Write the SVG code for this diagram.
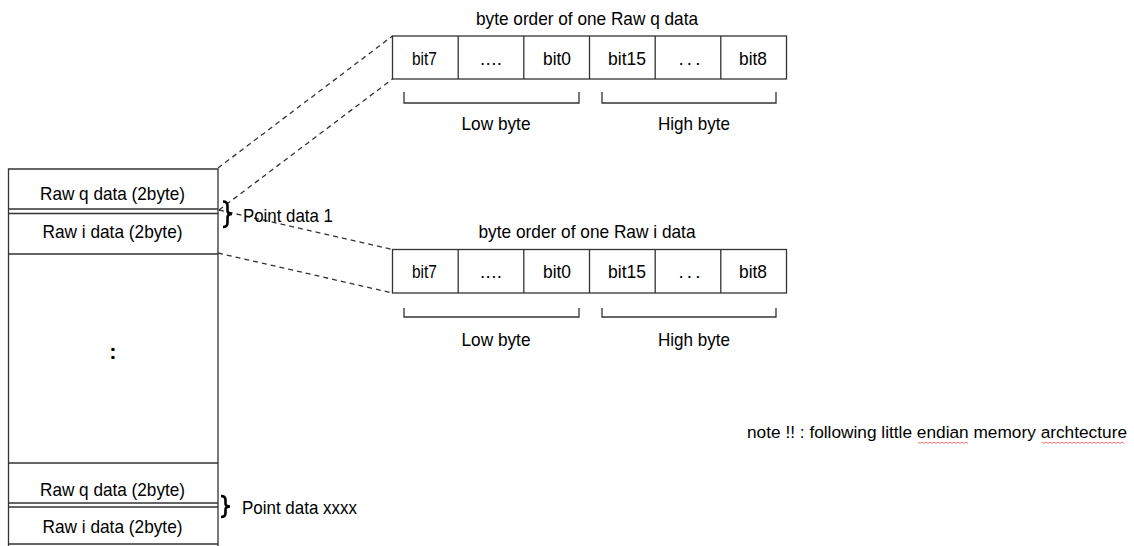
<svg xmlns="http://www.w3.org/2000/svg" width="1134" height="546" viewBox="0 0 1134 546">
<style>
text{font-family:"Liberation Sans",Arial,sans-serif;font-size:19px;fill:#000}
.c{text-anchor:middle}
.ln{fill:none;stroke:#333;stroke-width:1.3}
.box{fill:#fff;stroke:#333;stroke-width:1.3}
.dash{fill:none;stroke:#333;stroke-width:1.3;stroke-dasharray:5 4}
.brace{fill:none;stroke:#000;stroke-width:2.6}
.sq{fill:none;stroke:#e05050;stroke-width:0.8}
</style>
<rect width="1134" height="546" fill="#fff"/>
<g id="connectors">
<line class="dash" x1="218" y1="168" x2="392.5" y2="36"/>
<line class="dash" x1="219" y1="210" x2="392.5" y2="79"/>
<line class="dash" x1="219" y1="210" x2="392.5" y2="249.5"/>
<line class="dash" x1="218" y1="253" x2="392.5" y2="293"/>
</g>
<g id="memory">
<path class="ln" d="M8.5,546 V169 H218 V546"/>
<path class="ln" d="M8.5,209 H218 M8.5,213.5 H218 M8.5,254 H218 M8.5,463 H218 M8.5,503 H218 M8.5,507 H218 M8.5,544 H218"/>
<text class="c" x="112.5" y="200" textLength="145" lengthAdjust="spacingAndGlyphs">Raw q data (2byte)</text>
<text class="c" x="112.5" y="238" textLength="140" lengthAdjust="spacingAndGlyphs">Raw i data (2byte)</text>
<text class="c" x="113" y="359" style="font-size:22px;font-weight:bold">:</text>
<text class="c" x="112.5" y="496" textLength="145" lengthAdjust="spacingAndGlyphs">Raw q data (2byte)</text>
<text class="c" x="112.5" y="533" textLength="140" lengthAdjust="spacingAndGlyphs">Raw i data (2byte)</text>
</g>
<g id="point1">
<path class="brace" d="M223,201.5 Q227.5,201.5 227.5,206 V210.5 Q227.5,214 232,214 Q227.5,214 227.5,217.5 V222.5 Q227.5,227 223,227"/>
<text x="243" y="222" textLength="90" lengthAdjust="spacingAndGlyphs">Point data 1</text>
</g>
<g id="pointx">
<path class="brace" d="M221,496 Q225.5,496 225.5,500 V503.5 Q225.5,506.5 230,506.5 Q225.5,506.5 225.5,509.5 V513 Q225.5,517 221,517"/>
<text x="242" y="514" textLength="115" lengthAdjust="spacingAndGlyphs">Point data xxxx</text>
</g>
<g id="qbytes">
<text class="c" x="587" y="25" textLength="222" lengthAdjust="spacingAndGlyphs">byte order of one Raw q data</text>
<rect class="box" x="392.5" y="36" width="394" height="43"/>
<path class="ln" d="M458.2,36 V79 M523.8,36 V79 M589.5,36 V79 M655.2,36 V79 M720.8,36 V79"/>
<text class="c" x="424.5" y="65" textLength="25" lengthAdjust="spacingAndGlyphs">bit7</text>
<text class="c" x="491" y="65" textLength="22" lengthAdjust="spacing">....</text>
<text class="c" x="557" y="65" textLength="28" lengthAdjust="spacingAndGlyphs">bit0</text>
<text class="c" x="627" y="65" textLength="38" lengthAdjust="spacingAndGlyphs">bit15</text>
<text class="c" x="689.5" y="65" textLength="22" lengthAdjust="spacing">...</text>
<text class="c" x="753" y="65" textLength="28" lengthAdjust="spacingAndGlyphs">bit8</text>
<path class="ln" d="M404,92 V103 H579 V92 M602,92 V103 H776 V92"/>
<text class="c" x="496" y="130" textLength="69" lengthAdjust="spacingAndGlyphs">Low byte</text>
<text class="c" x="694" y="130" textLength="72" lengthAdjust="spacingAndGlyphs">High byte</text>
</g>
<g id="ibytes">
<text class="c" x="587" y="238" textLength="217" lengthAdjust="spacingAndGlyphs">byte order of one Raw i data</text>
<rect class="box" x="392.5" y="249.5" width="394" height="43.5"/>
<path class="ln" d="M458.2,249.5 V293 M523.8,249.5 V293 M589.5,249.5 V293 M655.2,249.5 V293 M720.8,249.5 V293"/>
<text class="c" x="424.5" y="278" textLength="25" lengthAdjust="spacingAndGlyphs">bit7</text>
<text class="c" x="491" y="278" textLength="22" lengthAdjust="spacing">....</text>
<text class="c" x="557" y="278" textLength="28" lengthAdjust="spacingAndGlyphs">bit0</text>
<text class="c" x="627" y="278" textLength="38" lengthAdjust="spacingAndGlyphs">bit15</text>
<text class="c" x="689.5" y="278" textLength="22" lengthAdjust="spacing">...</text>
<text class="c" x="753" y="278" textLength="28" lengthAdjust="spacingAndGlyphs">bit8</text>
<path class="ln" d="M404,308 V317 H579 V308 M602,308 V317 H776 V308"/>
<text class="c" x="496" y="346" textLength="69" lengthAdjust="spacingAndGlyphs">Low byte</text>
<text class="c" x="694" y="346" textLength="72" lengthAdjust="spacingAndGlyphs">High byte</text>
</g>
<g id="note">
<text x="747" y="438" style="font-size:17.2px" textLength="380" lengthAdjust="spacingAndGlyphs">note !! : following little endian memory archtecture</text>
<path class="sq" d="M918,442 l2,1.5 l2,-1.5 l2,1.5 l2,-1.5 l2,1.5 l2,-1.5 l2,1.5 l2,-1.5 l2,1.5 l2,-1.5 l2,1.5 l2,-1.5 l2,1.5 l2,-1.5 l2,1.5 l2,-1.5 l2,1.5 l2,-1.5 l2,1.5 l2,-1.5 l2,1.5 l2,-1.5 l2,1.5 l2,-1.5 l2,1.5"/>
<path class="sq" d="M1042,442 l2,1.5 l2,-1.5 l2,1.5 l2,-1.5 l2,1.5 l2,-1.5 l2,1.5 l2,-1.5 l2,1.5 l2,-1.5 l2,1.5 l2,-1.5 l2,1.5 l2,-1.5 l2,1.5 l2,-1.5 l2,1.5 l2,-1.5 l2,1.5 l2,-1.5 l2,1.5 l2,-1.5 l2,1.5 l2,-1.5 l2,1.5 l2,-1.5 l2,1.5 l2,-1.5 l2,1.5 l2,-1.5 l2,1.5 l2,-1.5 l2,1.5 l2,-1.5 l2,1.5 l2,-1.5 l2,1.5 l2,-1.5 l2,1.5 l2,-1.5 l2,1.5"/>
</g>
</svg>
